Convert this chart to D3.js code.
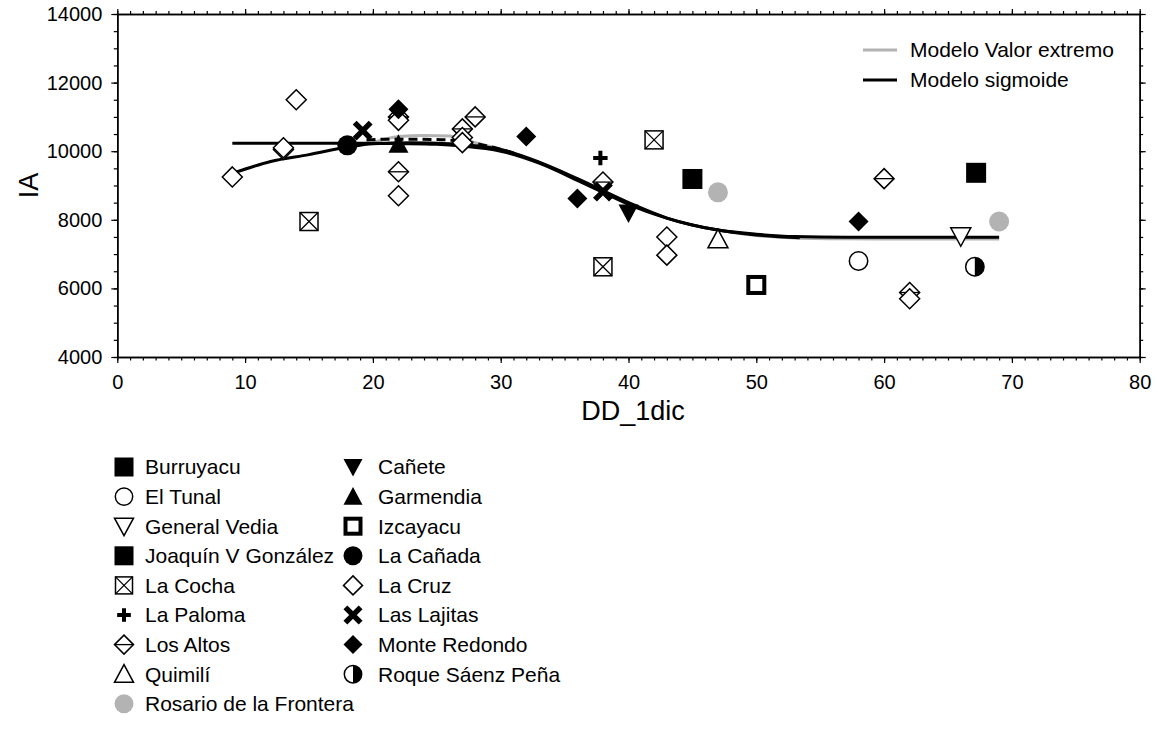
<!DOCTYPE html>
<html>
<head>
<meta charset="utf-8">
<script src="https://cdn.jsdelivr.net/npm/d3@7"></script>
<style>
  html, body { margin: 0; padding: 0; background: #fff; }
  svg { display: block; font-family: "Liberation Sans", Arial, sans-serif; }
</style>
</head>
<body>
<svg id="chart" width="1163" height="730"></svg>
<script>
// ---------- data ----------
const siteNames = ["Burruyacu", "El Tunal", "General Vedia", "Joaquín V González", "La Cocha",
  "La Paloma", "Los Altos", "Quimilí", "Rosario de la Frontera",
  "Cañete", "Garmendia", "Izcayacu", "La Cañada", "La Cruz", "Las Lajitas",
  "Monte Redondo", "Roque Sáenz Peña"];
const siteSymbols = ["fsquare", "ocircle", "otridown", "fsquare", "boxx",
  "plus", "diamondline", "otriup", "gcircle",
  "ftridown", "ftriup", "thicksquare", "fcircle", "odiamond", "xmark",
  "fdiamond", "halfcircle"];
const siteDD = [
  [45], [58], [66], [67.2], [15, 42, 38],
  [37.8], [13, 22, 22, 27, 28, 38, 60, 62], [47], [47, 69],
  [40], [22], [50], [18], [9, 13, 14, 22, 22, 27, 27, 43, 43, 62], [19.2, 38],
  [22, 32, 36, 58], [67.1]
];
const siteIA = [
  [9190], [6800], [7520], [9370], [7950, 10330, 6630],
  [9800], [10050, 11000, 9400, 10650, 11000, 9100, 9200, 5880], [7430], [8800, 7950],
  [8200], [10200], [6100], [10170], [9250, 10100, 11500, 10900, 8700, 10400, 10250, 7500, 6970, 5700], [10600, 8820],
  [11220, 10430, 8620, 7950], [6630]
];

// model curves
const extremoDD = [20, 22, 24, 26, 28, 30, 33, 36, 40, 43, 47, 50, 53, 57, 60, 65, 69];
const extremoIA = [10250, 10430, 10460, 10440, 10250, 10050, 9680, 9200, 8500, 8050, 7700, 7540, 7470, 7445, 7440, 7440, 7440];
const sigmoDD = [9, 12, 15, 18, 20, 22, 25, 27, 30, 33, 36, 38, 40, 43, 45, 47, 50, 53, 57, 60, 65, 69];
const sigmoIA = [10230, 10230, 10230, 10230, 10230, 10220, 10200, 10150, 10000, 9650, 9150, 8800, 8450, 8050, 7850, 7700, 7580, 7510, 7490, 7490, 7490, 7490];
const sigmo2DD = [9, 12, 15, 18, 20, 23, 26, 30, 33, 36, 40, 43, 47, 50, 53.4];
const sigmo2IA = [9350, 9700, 9900, 10120, 10220, 10250, 10220, 10050, 9680, 9200, 8500, 8050, 7700, 7560, 7480];
const dashedDD = [19.5, 21, 23, 25, 27, 29, 31];
const dashedIA = [10330, 10350, 10350, 10340, 10290, 10150, 9950];

const xTicks = [0, 10, 20, 30, 40, 50, 60, 70, 80];
const yTicks = [4000, 6000, 8000, 10000, 12000, 14000];
const modelLabels = ["Modelo Valor extremo", "Modelo sigmoide"];

// ---------- chart ----------
const svg = d3.select("#chart");
const x = d3.scaleLinear().domain([0, 80]).range([117.3, 1139.7]);
const y = d3.scaleLinear().domain([4000, 14000]).range([357, 14]);
const GRAY = "#b3b3b3";
const FONT = 21;

function styleAxis(g) {
  g.selectAll("path.domain").attr("stroke", "#000").attr("stroke-width", 1.5);
  g.selectAll(".tick line").attr("stroke", "#000").attr("stroke-width", 1.2);
  g.selectAll(".tick text").attr("fill", "#000").style("font-size", "20px")
    .style("font-family", "'Liberation Sans', Arial, sans-serif");
}
const xMinor = d3.range(0, 81, 1);
const yMinor = d3.range(4000, 14001, 500);

// bottom
svg.append("g").attr("transform", `translate(0,${y(4000)})`)
  .call(d3.axisBottom(x).tickValues(xMinor).tickSize(3.5).tickFormat("").tickSizeOuter(0)).call(styleAxis);
svg.append("g").attr("transform", `translate(0,${y(4000)})`)
  .call(d3.axisBottom(x).tickValues(xTicks).tickSize(6).tickPadding(12).tickFormat(d3.format("d")).tickSizeOuter(0))
  .call(styleAxis);
// top
svg.append("g").attr("transform", `translate(0,${y(14000)})`)
  .call(d3.axisTop(x).tickValues(xMinor).tickSize(3).tickFormat("").tickSizeOuter(0)).call(styleAxis);
svg.append("g").attr("transform", `translate(0,${y(14000)})`)
  .call(d3.axisTop(x).tickValues(xTicks).tickSize(5).tickFormat("").tickSizeOuter(0)).call(styleAxis);
// left
svg.append("g").attr("transform", `translate(${x(0)},0)`)
  .call(d3.axisLeft(y).tickValues(yMinor).tickSize(3.5).tickFormat("").tickSizeOuter(0)).call(styleAxis);
svg.append("g").attr("transform", `translate(${x(0)},0)`)
  .call(d3.axisLeft(y).tickValues(yTicks).tickSize(6).tickPadding(9).tickFormat(d3.format("d")).tickSizeOuter(0))
  .call(styleAxis);
// right
svg.append("g").attr("transform", `translate(${x(80)},0)`)
  .call(d3.axisRight(y).tickValues(yMinor).tickSize(3.5).tickFormat("").tickSizeOuter(0)).call(styleAxis);
svg.append("g").attr("transform", `translate(${x(80)},0)`)
  .call(d3.axisRight(y).tickValues(yTicks).tickSize(6).tickFormat("").tickSizeOuter(0)).call(styleAxis);

// axis titles
svg.append("text").attr("x", 633).attr("y", 420)
  .attr("text-anchor", "middle").style("font-size", "27px").text("DD_1dic");
svg.append("text").attr("transform", `translate(38,${(y(4000) + y(14000)) / 2}) rotate(-90)`)
  .attr("text-anchor", "middle").style("font-size", "27px").text("IA");

// model curves
const line = d3.line().x(d => x(d[0])).y(d => y(d[1])).curve(d3.curveMonotoneX);
const curves = svg.append("g");
curves.append("path").datum(extremoDD.map((d, i) => [d, extremoIA[i]]))
  .attr("d", line).attr("fill", "none").attr("stroke", GRAY).attr("stroke-width", 3);
curves.append("path").datum(dashedDD.map((d, i) => [d, dashedIA[i]]))
  .attr("d", line).attr("fill", "none").attr("stroke", "#000").attr("stroke-width", 3)
  .attr("stroke-dasharray", "9,5");
curves.append("path").datum(sigmoDD.map((d, i) => [d, sigmoIA[i]]))
  .attr("d", line).attr("fill", "none").attr("stroke", "#000").attr("stroke-width", 3);
curves.append("path").datum(sigmo2DD.map((d, i) => [d, sigmo2IA[i]]))
  .attr("d", line).attr("fill", "none").attr("stroke", "#000").attr("stroke-width", 3);

// markers
function drawMarker(g, type, s) {
  const h = s / 2;
  switch (type) {
    case "fsquare":
      g.append("rect").attr("x", -h).attr("y", -h).attr("width", s).attr("height", s).attr("fill", "#000"); break;
    case "ocircle":
      g.append("circle").attr("r", h - 0.8).attr("fill", "#fff").attr("stroke", "#000").attr("stroke-width", 1.5); break;
    case "otridown":
      g.append("path").attr("d", `M${-h},${-h * 0.85}L${h},${-h * 0.85}L0,${h}Z`).attr("fill", "#fff").attr("stroke", "#000").attr("stroke-width", 1.5); break;
    case "otriup":
      g.append("path").attr("d", `M${-h},${h * 0.85}L${h},${h * 0.85}L0,${-h}Z`).attr("fill", "#fff").attr("stroke", "#000").attr("stroke-width", 1.5); break;
    case "ftridown":
      g.append("path").attr("d", `M${-h},${-h * 0.85}L${h},${-h * 0.85}L0,${h}Z`).attr("fill", "#000"); break;
    case "ftriup":
      g.append("path").attr("d", `M${-h},${h * 0.85}L${h},${h * 0.85}L0,${-h}Z`).attr("fill", "#000"); break;
    case "boxx": {
      const k = h - 1;
      g.append("rect").attr("x", -k).attr("y", -k).attr("width", 2 * k).attr("height", 2 * k).attr("fill", "#fff").attr("stroke", "#000").attr("stroke-width", 1.5);
      g.append("path").attr("d", `M${-k},${-k}L${k},${k}M${k},${-k}L${-k},${k}`).attr("stroke", "#000").attr("stroke-width", 1.3);
      break;
    }
    case "plus": {
      const k = h * 0.72;
      g.append("path").attr("d", `M${-k},0L${k},0M0,${-k}L0,${k}`).attr("stroke", "#000").attr("stroke-width", 4); break;
    }
    case "odiamond":
      g.append("path").attr("d", `M0,${-h}L${h},0L0,${h}L${-h},0Z`).attr("fill", "#fff").attr("stroke", "#000").attr("stroke-width", 1.5); break;
    case "diamondline":
      g.append("path").attr("d", `M0,${-h}L${h},0L0,${h}L${-h},0Z`).attr("fill", "#fff").attr("stroke", "#000").attr("stroke-width", 1.5);
      g.append("path").attr("d", `M${-h},0L${h},0`).attr("stroke", "#000").attr("stroke-width", 1.3); break;
    case "fdiamond":
      g.append("path").attr("d", `M0,${-h}L${h},0L0,${h}L${-h},0Z`).attr("fill", "#000"); break;
    case "gcircle":
      g.append("circle").attr("r", h).attr("fill", GRAY); break;
    case "fcircle":
      g.append("circle").attr("r", h).attr("fill", "#000"); break;
    case "thicksquare": {
      const k = h - 2;
      g.append("rect").attr("x", -k).attr("y", -k).attr("width", 2 * k).attr("height", 2 * k).attr("fill", "#fff").attr("stroke", "#000").attr("stroke-width", 4); break;
    }
    case "xmark": {
      const k = h * 0.8;
      g.append("path").attr("d", `M${-k},${-k}L${k},${k}M${k},${-k}L${-k},${k}`).attr("stroke", "#000").attr("stroke-width", 5.5); break;
    }
    case "halfcircle": {
      const r = h - 0.8;
      g.append("circle").attr("r", r).attr("fill", "#fff").attr("stroke", "#000").attr("stroke-width", 1.5);
      g.append("path").attr("d", `M0,${-r}A${r},${r} 0 0 1 0,${r}Z`).attr("fill", "#000");
      break;
    }
  }
}

const pts = svg.append("g");
siteNames.forEach((name, i) => {
  siteDD[i].forEach((dd, j) => {
    const g = pts.append("g").attr("transform", `translate(${x(dd)},${y(siteIA[i][j])})`);
    drawMarker(g, siteSymbols[i], 20);
  });
});

// model legend (top right)
const ml = svg.append("g");
[GRAY, "#000"].forEach((c, i) => {
  const yy = 50 + i * 30;
  ml.append("line").attr("x1", 863).attr("x2", 897).attr("y1", yy).attr("y2", yy).attr("stroke", c).attr("stroke-width", 3);
  ml.append("text").attr("x", 910).attr("y", yy).attr("dy", "0.35em").style("font-size", FONT + "px").text(modelLabels[i]);
});

// site legend (bottom)
const leg = svg.append("g");
siteNames.forEach((name, i) => {
  const col = i < 9 ? 0 : 1;
  const row = col === 0 ? i : i - 9;
  const mx = col === 0 ? 124 : 353;
  const tx = col === 0 ? 145 : 378;
  const yy = 467 + row * 29.6;
  const g = leg.append("g").attr("transform", `translate(${mx},${yy})`);
  drawMarker(g, siteSymbols[i], 19);
  leg.append("text").attr("x", tx).attr("y", yy).attr("dy", "0.35em").style("font-size", FONT + "px").text(name);
});
</script>
</body>
</html>
